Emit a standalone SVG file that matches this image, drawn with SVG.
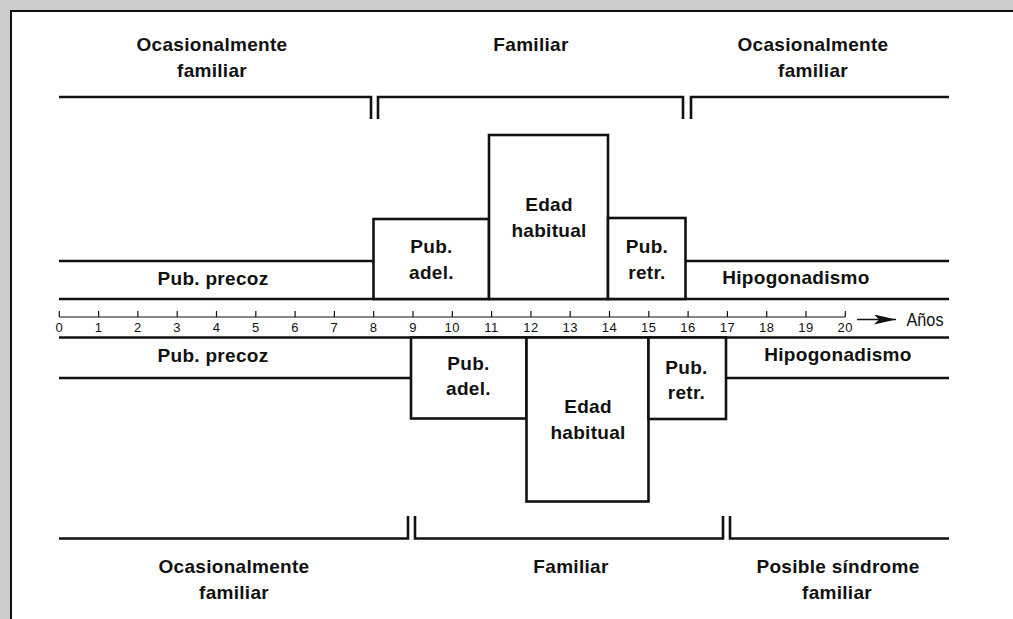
<svg xmlns="http://www.w3.org/2000/svg" width="1013" height="619" viewBox="0 0 1013 619">
<style>
.ln{fill:none;stroke:#111;stroke-width:2.6;stroke-linecap:butt;stroke-linejoin:miter}
.bx{fill:#fff;stroke:#111;stroke-width:2.6}
.t{font-family:"Liberation Sans",Arial,sans-serif;font-weight:bold;font-size:19px;fill:#111;text-anchor:middle;letter-spacing:0.3px}
.n{font-family:"Liberation Sans",Arial,sans-serif;font-size:13px;fill:#111;text-anchor:middle;letter-spacing:0.5px}
.ax{fill:none;stroke:#111;stroke-width:1.2}
</style>
<defs>
<marker id="arr" markerWidth="22" markerHeight="10" refX="22" refY="5" orient="auto" markerUnits="userSpaceOnUse">
<path d="M0,0 L22,5 L0,10 L5,5 Z" fill="#111"/>
</marker>
</defs>
<rect x="0" y="0" width="1013" height="619" fill="#cccccc"/>
<rect x="11" y="11" width="1010" height="620" fill="#fff" stroke="#111" stroke-width="2"/>

<g id="connectors">
<path class="ln" d="M59,97 H371 V119"/>
<path class="ln" d="M378,119 V97 H683 V119"/>
<path class="ln" d="M691,119 V97 H949"/>
<path class="ln" d="M59,261 H373"/>
<path class="ln" d="M686,261 H949"/>
<path class="ln" d="M59,299 H949"/>
<path class="ln" d="M59,337.5 H949"/>
<path class="ln" d="M59,378 H411"/>
<path class="ln" d="M726,378 H949"/>
<path class="ln" d="M59,538.5 H408 V516"/>
<path class="ln" d="M415,516 V538.5 H723 V516"/>
<path class="ln" d="M730,516 V538.5 H949"/>
</g>

<g id="axis">
<path class="ax" d="M59.3,317 H845.3 M59.3,311 V317 M98.6,311 V317 M137.9,311 V317 M177.2,311 V317 M216.5,311 V317 M255.8,311 V317 M295.1,311 V317 M334.4,311 V317 M373.7,311 V317 M413,311 V317 M452.3,311 V317 M491.6,311 V317 M530.9,311 V317 M570.2,311 V317 M609.5,311 V317 M648.8,311 V317 M688.1,311 V317 M727.4,311 V317 M766.7,311 V317 M806,311 V317 M845.3,311 V317"/>
<line x1="857" y1="319.5" x2="896" y2="319.5" stroke="#111" stroke-width="1.4" marker-end="url(#arr)"/>
<text x="925" y="325.5" font-family="'Liberation Sans',Arial,sans-serif" font-size="18" fill="#111" text-anchor="middle" textLength="37" lengthAdjust="spacingAndGlyphs">Años</text>
<g class="n">
<text x="59.3" y="332">0</text><text x="98.6" y="332">1</text><text x="137.9" y="332">2</text><text x="177.2" y="332">3</text><text x="216.5" y="332">4</text><text x="255.8" y="332">5</text><text x="295.1" y="332">6</text><text x="334.4" y="332">7</text><text x="373.7" y="332">8</text><text x="413" y="332">9</text><text x="452.3" y="332">10</text><text x="491.6" y="332">11</text><text x="530.9" y="332">12</text><text x="570.2" y="332">13</text><text x="609.5" y="332">14</text><text x="648.8" y="332">15</text><text x="688.1" y="332">16</text><text x="727.4" y="332">17</text><text x="766.7" y="332">18</text><text x="806" y="332">19</text><text x="845.3" y="332">20</text>
</g>
</g>

<g id="top-occ-left"><text class="t" x="212" y="51">Ocasionalmente</text><text class="t" x="212" y="77">familiar</text></g>
<g id="top-familiar"><text class="t" x="531" y="51">Familiar</text></g>
<g id="top-occ-right"><text class="t" x="813" y="51">Ocasionalmente</text><text class="t" x="813" y="77">familiar</text></g>

<g id="top-precoz"><text class="t" x="213" y="285">Pub. precoz</text></g>
<g id="top-adel"><rect class="bx" x="373.5" y="219" width="115.5" height="80"/><text class="t" x="431.5" y="253">Pub.</text><text class="t" x="431.5" y="278.5">adel.</text></g>
<g id="top-edad"><rect class="bx" x="489" y="135" width="119" height="164"/><text class="t" x="549" y="211">Edad</text><text class="t" x="549" y="237">habitual</text></g>
<g id="top-retr"><rect class="bx" x="608" y="218" width="77.5" height="81"/><text class="t" x="647" y="253">Pub.</text><text class="t" x="647" y="279">retr.</text></g>
<g id="top-hipo"><text class="t" x="796" y="284">Hipogonadismo</text></g>

<g id="bot-precoz"><text class="t" x="213" y="362">Pub. precoz</text></g>
<g id="bot-adel"><rect class="bx" x="411" y="337.5" width="115.5" height="81"/><text class="t" x="468.5" y="369.5">Pub.</text><text class="t" x="468.5" y="395">adel.</text></g>
<g id="bot-edad"><rect class="bx" x="526.5" y="337.5" width="122" height="164"/><text class="t" x="588" y="413">Edad</text><text class="t" x="588" y="438.5">habitual</text></g>
<g id="bot-retr"><rect class="bx" x="648.5" y="337.5" width="77.5" height="81.5"/><text class="t" x="686.5" y="373.5">Pub.</text><text class="t" x="686.5" y="398.5">retr.</text></g>
<g id="bot-hipo"><text class="t" x="838" y="361">Hipogonadismo</text></g>

<g id="bot-occ"><text class="t" x="234" y="573">Ocasionalmente</text><text class="t" x="234" y="599">familiar</text></g>
<g id="bot-familiar"><text class="t" x="571" y="573">Familiar</text></g>
<g id="bot-posible"><text class="t" x="838" y="573">Posible síndrome</text><text class="t" x="837" y="599">familiar</text></g>
</svg>
